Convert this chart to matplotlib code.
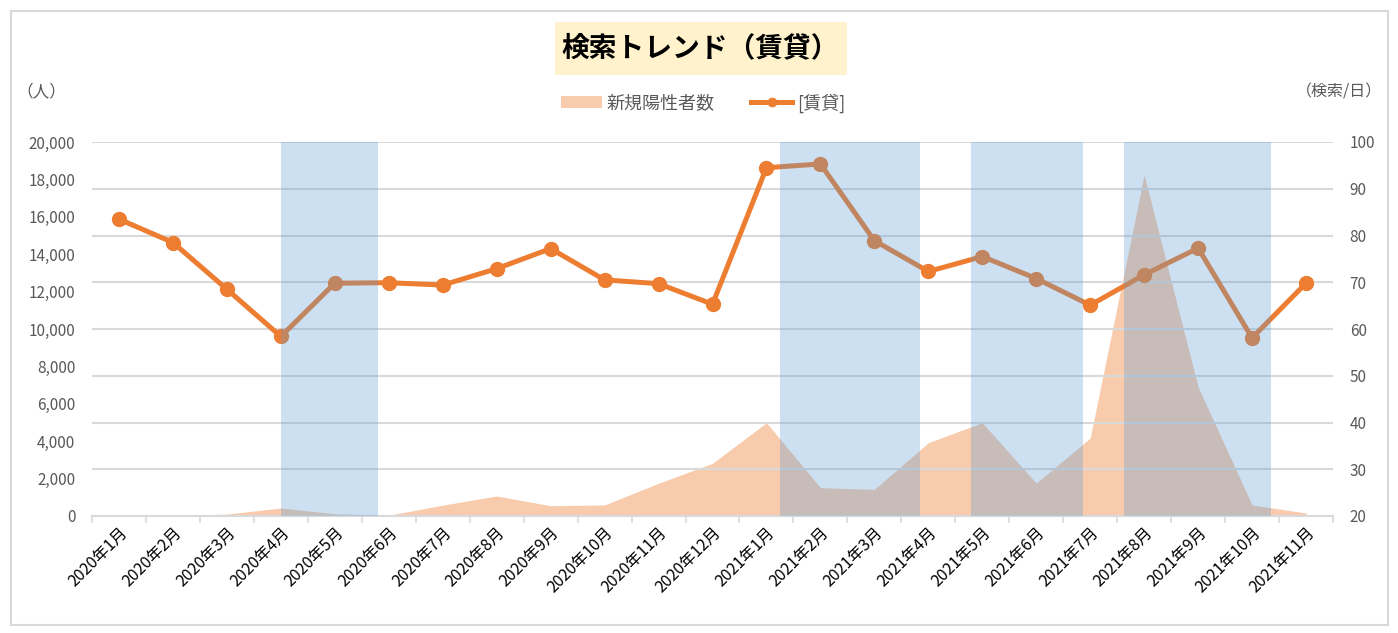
import matplotlib
matplotlib.use("Agg")
import matplotlib.pyplot as plt
from matplotlib.patches import Rectangle
from matplotlib.lines import Line2D
from matplotlib.patches import Patch
from matplotlib.ticker import FuncFormatter, MultipleLocator, FixedLocator

plt.rcParams['font.family'] = ['Noto Sans CJK JP', 'DejaVu Sans']

months = ["2020年1月", "2020年2月", "2020年3月", "2020年4月", "2020年5月", "2020年6月",
          "2020年7月", "2020年8月", "2020年9月", "2020年10月", "2020年11月", "2020年12月",
          "2021年1月", "2021年2月", "2021年3月", "2021年4月", "2021年5月", "2021年6月",
          "2021年7月", "2021年8月", "2021年9月", "2021年10月", "2021年11月"]
new_cases = [5, 20, 100, 430, 120, 40, 580, 1070, 550, 590, 1750, 2820,
             4990, 1515, 1425, 3920, 4990, 1760, 4170, 18240, 6900, 590, 160]
search_rent = [83.5, 78.5, 68.5, 58.4, 69.8, 69.9, 69.4, 72.9, 77.2, 70.5, 69.7, 65.3,
               94.5, 95.3, 78.9, 72.3, 75.5, 70.8, 65.1, 71.6, 77.3, 58.1, 69.8]
# emergency periods (in category index units)
band_starts = [3.0, 12.25, 15.79, 18.62]
band_ends = [4.80, 14.85, 17.87, 21.35]

C_AREA = "#F8CBAD"
C_LINE = "#ED7D31"
C_BAND = "#5B9BD5"
C_GRID = "#D9D9D9"
C_TXT = "#595959"

W, H = 1398, 633
fig = plt.figure(figsize=(W / 100, H / 100), dpi=100)
fig.patch.set_facecolor("white")

# outer frame
fig.add_artist(Rectangle((11 / W, 1 - 625 / H), (1388 - 11) / W, (625 - 11) / H,
                         transform=fig.transFigure, fill=False, edgecolor=C_GRID, lw=1.5))

ax = fig.add_axes([92 / W, 1 - 516 / H, (1333 - 92) / W, (516 - 142) / H])
ax2 = ax.twinx()

x = list(range(len(months)))
ax.fill_between(x, new_cases, 0, color=C_AREA, lw=0, zorder=1)
ax.set_ylim(0, 20000)
ax.set_xlim(-0.5, len(months) - 0.5)
ax.yaxis.set_major_locator(MultipleLocator(2000))
ax.yaxis.set_major_formatter(FuncFormatter(lambda v, p: f"{int(v):,}"))
ax.tick_params(axis="y", length=0, pad=12, labelsize=11, labelcolor=C_TXT)

ax.set_xticks(x)
ax.set_xticklabels(months, rotation=45, ha="right", va="top", rotation_mode="anchor",
                   fontsize=11.5, color="black")
ax.tick_params(axis="x", which="major", length=0, pad=6)
ax.xaxis.set_minor_locator(FixedLocator([i - 0.5 for i in range(len(months) + 1)]))
ax.tick_params(axis="x", which="minor", length=5, width=1.2, color=C_GRID)

for s in ["top", "left", "right"]:
    ax.spines[s].set_visible(False)
ax.spines["bottom"].set_color(C_GRID)
ax.spines["bottom"].set_linewidth(1.5)

ax2.set_ylim(20, 100)
ax2.yaxis.set_major_locator(MultipleLocator(10))
ax2.tick_params(axis="y", length=0, pad=12, labelsize=11, labelcolor=C_TXT)
ax2.grid(axis="y", color=C_GRID, lw=1.5, zorder=0)
for s in ["top", "left", "right", "bottom"]:
    ax2.spines[s].set_visible(False)

ax2.plot(x, search_rent, color=C_LINE, lw=3.6, marker="o", markersize=10,
         zorder=3, solid_capstyle="round")
for s0, s1 in zip(band_starts, band_ends):
    ax2.axvspan(s0, s1, color=C_BAND, alpha=0.3, lw=0, zorder=4)

# title with background box
fig.add_artist(Rectangle((555 / W, 1 - 75 / H), (847 - 555) / W, (75 - 22) / H,
                         transform=fig.transFigure, facecolor="#FFF2CC", edgecolor="none"))
fig.text(700 / W, 1 - 48 / H, "検索トレンド（賃貸）", ha="center", va="center",
         fontsize=20, fontweight="bold", color="black")

fig.text(41 / W, 1 - 92 / H, "（人）", ha="center", va="center", fontsize=12, color=C_TXT)
fig.text(1339 / W, 1 - 92 / H, "（検索/日）", ha="center", va="center", fontsize=11.5, color=C_TXT)

handles = [Patch(facecolor=C_AREA, edgecolor="none"),
           Line2D([], [], color=C_LINE, lw=3.6, marker="o", markersize=6)]
leg = fig.legend(handles, ["新規陽性者数", "[賃貸]"], loc="center",
                 bbox_to_anchor=(703 / W, 1 - 103 / H), ncol=2, frameon=False,
                 fontsize=13, handlelength=2.3, handletextpad=0.25, columnspacing=2.0)
for t in leg.get_texts():
    t.set_color(C_TXT)

fig.savefig("out.png", dpi=100)
